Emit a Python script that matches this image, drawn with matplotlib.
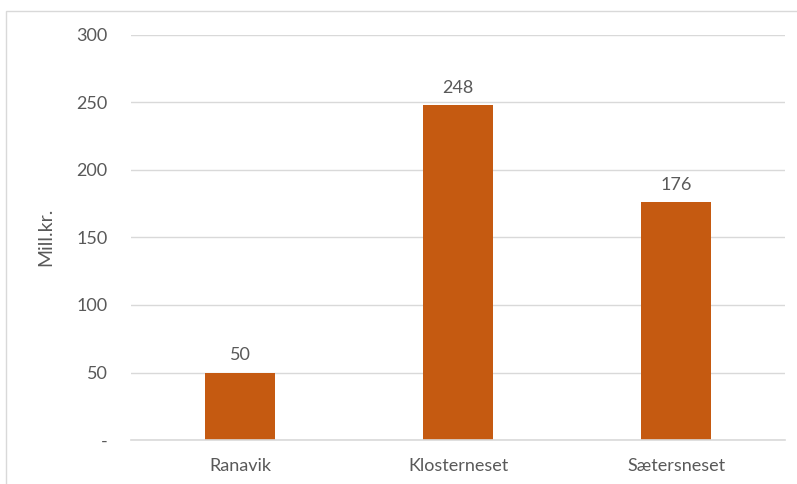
import matplotlib
matplotlib.use("Agg")
import matplotlib.pyplot as plt
from matplotlib.patches import Rectangle

categories = ["Ranavik", "Klosterneset", "Sætersneset"]
values = [50, 248, 176]
yticks = [0, 50, 100, 150, 200, 250, 300]
ytick_labels = ["-", "50", "100", "150", "200", "250", "300"]

plt.rcParams["font.family"] = ["Lato", "DejaVu Sans"]
text_color = "#595959"
grid_color = "#d9d9d9"
bar_color = "#C55A11"

W, H = 797, 484
fig = plt.figure(figsize=(W / 100, H / 100), dpi=100)

# chart frame
fig.patches.append(Rectangle((6 / W, -0.1), 1.2, 1 - 11 / H + 0.1,
                             transform=fig.transFigure, fill=False,
                             edgecolor="#d9d9d9", linewidth=1))

ax = fig.add_axes([131 / W, 1 - 440 / H, (785 - 131) / W, (440 - 35) / H])
x = range(len(categories))
ax.bar(x, values, width=0.32, color=bar_color, zorder=3)
ax.set_xlim(-0.5, len(categories) - 0.5)
ax.set_ylim(0, 300)
ax.set_yticks(yticks)
ax.set_yticklabels(ytick_labels)
ax.set_xticks(list(x))
ax.set_xticklabels(categories)
ax.tick_params(axis="both", length=0, colors=text_color, labelsize=13)
ax.tick_params(axis="y", pad=17)
ax.tick_params(axis="x", pad=13)
for s in ax.spines.values():
    s.set_visible(False)
ax.yaxis.grid(True, color=grid_color, linewidth=1, zorder=0)
ax.set_axisbelow(True)
ax.axhline(0, color=grid_color, linewidth=1.2, zorder=4, clip_on=False)

for xi, v in zip(x, values):
    ax.text(xi, v + 7, f"{v}", ha="center", va="bottom", color=text_color, fontsize=13)

fig.text(46 / W, 1 - 237 / H, "Mill.kr.", rotation=90, ha="center", va="center",
         color=text_color, fontsize=14)

fig.savefig("out.png", dpi=100)
